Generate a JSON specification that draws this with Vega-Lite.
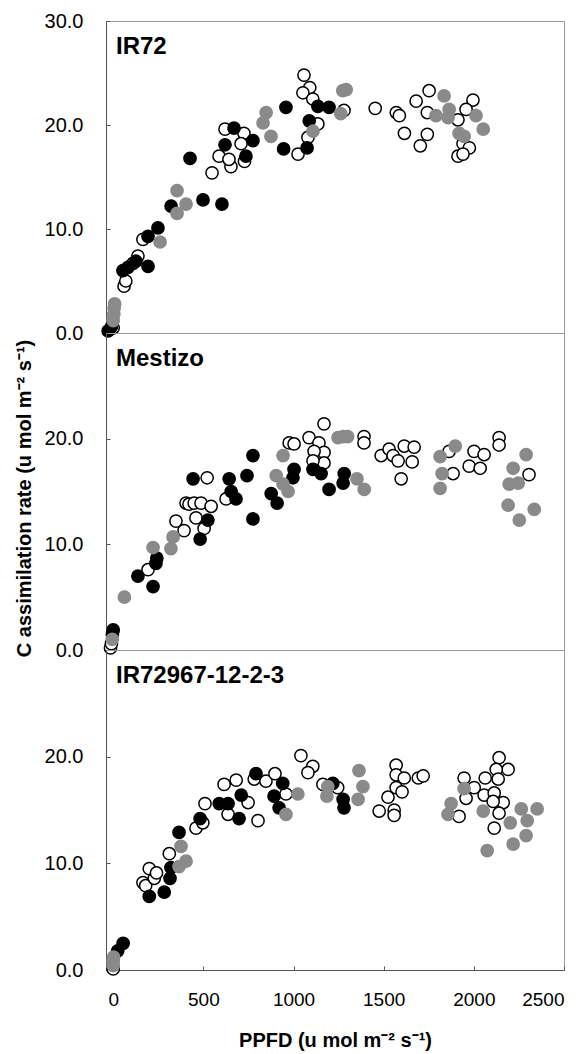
{
  "$schema": "https://vega.github.io/schema/vega-lite/v6.json",
  "padding": {"left": 13, "top": 10, "right": 4, "bottom": 3},
  "autosize": {"type": "pad"},
  "background": "white",
  "config": {
    "font": "Liberation Sans",
    "view": {"stroke": "#9a9a9a", "strokeWidth": 1},
    "axis": {"grid": false, "domainColor": "#555555", "tickColor": "#555555", "labelColor": "#000000", "titleColor": "#000000", "labelFont": "Liberation Sans", "titleFont": "Liberation Sans"}
  },
  "datasets": {
    "d": [
      {"p":"a","t":"o","x":0,"y":0.5},{"p":"a","t":"o","x":60,"y":4.5},{"p":"a","t":"o","x":70,"y":5.0},{"p":"a","t":"o","x":110,"y":6.7},{"p":"a","t":"o","x":137,"y":7.4},{"p":"a","t":"o","x":165,"y":9.0},{"p":"a","t":"o","x":548,"y":15.4},{"p":"a","t":"o","x":587,"y":17.0},{"p":"a","t":"o","x":653,"y":16.0},{"p":"a","t":"o","x":642,"y":16.7},{"p":"a","t":"o","x":620,"y":19.6},{"p":"a","t":"o","x":725,"y":19.2},{"p":"a","t":"o","x":709,"y":18.2},{"p":"a","t":"o","x":728,"y":16.5},{"p":"a","t":"o","x":1025,"y":17.2},{"p":"a","t":"o","x":1058,"y":24.8},{"p":"a","t":"o","x":1090,"y":23.6},{"p":"a","t":"o","x":1052,"y":23.1},{"p":"a","t":"o","x":1107,"y":22.5},{"p":"a","t":"o","x":1280,"y":21.4},{"p":"a","t":"o","x":1135,"y":20.1},{"p":"a","t":"o","x":1080,"y":18.8},{"p":"a","t":"o","x":1453,"y":21.6},{"p":"a","t":"o","x":1570,"y":21.2},{"p":"a","t":"o","x":1587,"y":20.9},{"p":"a","t":"o","x":1615,"y":19.2},{"p":"a","t":"o","x":1680,"y":22.3},{"p":"a","t":"o","x":1752,"y":23.3},{"p":"a","t":"o","x":1742,"y":19.1},{"p":"a","t":"o","x":1703,"y":18.0},{"p":"a","t":"o","x":1742,"y":21.2},{"p":"a","t":"o","x":1912,"y":20.5},{"p":"a","t":"o","x":1995,"y":22.4},{"p":"a","t":"o","x":1957,"y":21.5},{"p":"a","t":"o","x":1940,"y":18.2},{"p":"a","t":"o","x":1975,"y":17.8},{"p":"a","t":"o","x":1912,"y":17.0},{"p":"a","t":"o","x":1940,"y":17.2},
      {"p":"a","t":"k","x":-28,"y":0.2},{"p":"a","t":"k","x":-10,"y":0.6},{"p":"a","t":"k","x":54,"y":6.0},{"p":"a","t":"k","x":82,"y":6.3},{"p":"a","t":"k","x":126,"y":6.9},{"p":"a","t":"k","x":193,"y":6.4},{"p":"a","t":"k","x":193,"y":9.3},{"p":"a","t":"k","x":248,"y":10.1},{"p":"a","t":"k","x":321,"y":12.2},{"p":"a","t":"k","x":426,"y":16.8},{"p":"a","t":"k","x":498,"y":12.8},{"p":"a","t":"k","x":603,"y":12.4},{"p":"a","t":"k","x":620,"y":18.1},{"p":"a","t":"k","x":670,"y":19.7},{"p":"a","t":"k","x":736,"y":17.0},{"p":"a","t":"k","x":775,"y":18.5},{"p":"a","t":"k","x":958,"y":21.7},{"p":"a","t":"k","x":945,"y":17.7},{"p":"a","t":"k","x":1075,"y":17.8},{"p":"a","t":"k","x":1135,"y":21.8},{"p":"a","t":"k","x":1197,"y":21.7},{"p":"a","t":"k","x":1087,"y":20.4},
      {"p":"a","t":"g","x":0,"y":1.2},{"p":"a","t":"g","x":3,"y":1.8},{"p":"a","t":"g","x":5,"y":2.4},{"p":"a","t":"g","x":8,"y":2.8},{"p":"a","t":"g","x":260,"y":8.75},{"p":"a","t":"g","x":354,"y":13.7},{"p":"a","t":"g","x":404,"y":12.4},{"p":"a","t":"g","x":354,"y":11.5},{"p":"a","t":"g","x":848,"y":21.2},{"p":"a","t":"g","x":831,"y":20.2},{"p":"a","t":"g","x":875,"y":18.9},{"p":"a","t":"g","x":1273,"y":23.3},{"p":"a","t":"g","x":1292,"y":23.4},{"p":"a","t":"g","x":1262,"y":21.1},{"p":"a","t":"g","x":1108,"y":19.4},{"p":"a","t":"g","x":1835,"y":22.8},{"p":"a","t":"g","x":1790,"y":20.9},{"p":"a","t":"g","x":1863,"y":21.5},{"p":"a","t":"g","x":1857,"y":20.7},{"p":"a","t":"g","x":2012,"y":20.9},{"p":"a","t":"g","x":2052,"y":19.6},{"p":"a","t":"g","x":1918,"y":19.2},{"p":"a","t":"g","x":1946,"y":18.9},

      {"p":"b","t":"o","x":-15,"y":0.2},{"p":"b","t":"o","x":-10,"y":0.6},{"p":"b","t":"o","x":193,"y":7.6},{"p":"b","t":"o","x":348,"y":12.2},{"p":"b","t":"o","x":393,"y":11.3},{"p":"b","t":"o","x":504,"y":11.5},{"p":"b","t":"o","x":404,"y":13.9},{"p":"b","t":"o","x":420,"y":13.8},{"p":"b","t":"o","x":449,"y":13.9},{"p":"b","t":"o","x":487,"y":13.9},{"p":"b","t":"o","x":543,"y":13.6},{"p":"b","t":"o","x":459,"y":12.5},{"p":"b","t":"o","x":521,"y":16.3},{"p":"b","t":"o","x":626,"y":14.3},{"p":"b","t":"o","x":976,"y":19.6},{"p":"b","t":"o","x":1003,"y":19.5},{"p":"b","t":"o","x":1086,"y":20.1},{"p":"b","t":"o","x":1169,"y":21.4},{"p":"b","t":"o","x":1141,"y":19.6},{"p":"b","t":"o","x":1169,"y":18.7},{"p":"b","t":"o","x":1114,"y":18.8},{"p":"b","t":"o","x":1169,"y":17.7},{"p":"b","t":"o","x":1108,"y":17.9},{"p":"b","t":"o","x":1391,"y":20.2},{"p":"b","t":"o","x":1391,"y":19.6},{"p":"b","t":"o","x":1486,"y":18.4},{"p":"b","t":"o","x":1530,"y":19.0},{"p":"b","t":"o","x":1552,"y":18.4},{"p":"b","t":"o","x":1580,"y":17.9},{"p":"b","t":"o","x":1614,"y":19.3},{"p":"b","t":"o","x":1669,"y":19.2},{"p":"b","t":"o","x":1658,"y":17.8},{"p":"b","t":"o","x":1597,"y":16.2},{"p":"b","t":"o","x":1863,"y":18.8},{"p":"b","t":"o","x":1885,"y":16.7},{"p":"b","t":"o","x":2001,"y":18.8},{"p":"b","t":"o","x":2057,"y":18.5},{"p":"b","t":"o","x":1974,"y":17.4},{"p":"b","t":"o","x":2035,"y":17.2},{"p":"b","t":"o","x":2140,"y":20.1},{"p":"b","t":"o","x":2140,"y":19.4},{"p":"b","t":"o","x":2306,"y":16.6},
      {"p":"b","t":"k","x":-5,"y":1.5},{"p":"b","t":"k","x":0,"y":1.9},{"p":"b","t":"k","x":137,"y":7.0},{"p":"b","t":"k","x":221,"y":6.0},{"p":"b","t":"k","x":237,"y":8.2},{"p":"b","t":"k","x":242,"y":8.7},{"p":"b","t":"k","x":482,"y":10.5},{"p":"b","t":"k","x":525,"y":12.3},{"p":"b","t":"k","x":443,"y":16.2},{"p":"b","t":"k","x":643,"y":16.2},{"p":"b","t":"k","x":654,"y":15.0},{"p":"b","t":"k","x":681,"y":14.3},{"p":"b","t":"k","x":742,"y":16.5},{"p":"b","t":"k","x":775,"y":18.4},{"p":"b","t":"k","x":775,"y":12.4},{"p":"b","t":"k","x":876,"y":14.8},{"p":"b","t":"k","x":909,"y":13.9},{"p":"b","t":"k","x":1003,"y":17.1},{"p":"b","t":"k","x":997,"y":16.3},{"p":"b","t":"k","x":1108,"y":17.1},{"p":"b","t":"k","x":1153,"y":16.7},{"p":"b","t":"k","x":1197,"y":15.2},{"p":"b","t":"k","x":1281,"y":16.7},{"p":"b","t":"k","x":1275,"y":15.8},
      {"p":"b","t":"g","x":-5,"y":1.0},{"p":"b","t":"g","x":62,"y":5.0},{"p":"b","t":"g","x":221,"y":9.7},{"p":"b","t":"g","x":320,"y":9.6},{"p":"b","t":"g","x":332,"y":10.7},{"p":"b","t":"g","x":942,"y":18.4},{"p":"b","t":"g","x":904,"y":16.5},{"p":"b","t":"g","x":942,"y":15.7},{"p":"b","t":"g","x":970,"y":15.0},{"p":"b","t":"g","x":1275,"y":20.2},{"p":"b","t":"g","x":1300,"y":20.2},{"p":"b","t":"g","x":1247,"y":20.1},{"p":"b","t":"g","x":1352,"y":16.2},{"p":"b","t":"g","x":1392,"y":15.2},{"p":"b","t":"g","x":1813,"y":18.3},{"p":"b","t":"g","x":1897,"y":19.3},{"p":"b","t":"g","x":1824,"y":16.7},{"p":"b","t":"g","x":1813,"y":15.3},{"p":"b","t":"g","x":2290,"y":18.5},{"p":"b","t":"g","x":2218,"y":17.2},{"p":"b","t":"g","x":2196,"y":15.7},{"p":"b","t":"g","x":2246,"y":15.8},{"p":"b","t":"g","x":2190,"y":13.7},{"p":"b","t":"g","x":2252,"y":12.3},{"p":"b","t":"g","x":2335,"y":13.3},

      {"p":"c","t":"o","x":0,"y":0.1},{"p":"c","t":"o","x":165,"y":8.2},{"p":"c","t":"o","x":180,"y":7.9},{"p":"c","t":"o","x":200,"y":9.5},{"p":"c","t":"o","x":228,"y":8.6},{"p":"c","t":"o","x":240,"y":9.1},{"p":"c","t":"o","x":311,"y":10.9},{"p":"c","t":"o","x":459,"y":13.3},{"p":"c","t":"o","x":497,"y":13.8},{"p":"c","t":"o","x":509,"y":15.6},{"p":"c","t":"o","x":637,"y":14.6},{"p":"c","t":"o","x":615,"y":17.4},{"p":"c","t":"o","x":682,"y":17.8},{"p":"c","t":"o","x":748,"y":15.7},{"p":"c","t":"o","x":803,"y":14.0},{"p":"c","t":"o","x":782,"y":17.9},{"p":"c","t":"o","x":847,"y":17.7},{"p":"c","t":"o","x":897,"y":18.4},{"p":"c","t":"o","x":958,"y":16.5},{"p":"c","t":"o","x":1041,"y":20.1},{"p":"c","t":"o","x":1107,"y":19.1},{"p":"c","t":"o","x":1080,"y":18.5},{"p":"c","t":"o","x":1163,"y":17.4},{"p":"c","t":"o","x":1245,"y":17.1},{"p":"c","t":"o","x":1569,"y":19.2},{"p":"c","t":"o","x":1569,"y":18.3},{"p":"c","t":"o","x":1614,"y":18.0},{"p":"c","t":"o","x":1692,"y":18.0},{"p":"c","t":"o","x":1719,"y":18.2},{"p":"c","t":"o","x":1569,"y":17.1},{"p":"c","t":"o","x":1602,"y":16.7},{"p":"c","t":"o","x":1524,"y":16.2},{"p":"c","t":"o","x":1475,"y":14.9},{"p":"c","t":"o","x":1558,"y":15.0},{"p":"c","t":"o","x":1558,"y":14.5},{"p":"c","t":"o","x":1946,"y":18.0},{"p":"c","t":"o","x":2002,"y":17.1},{"p":"c","t":"o","x":1957,"y":16.1},{"p":"c","t":"o","x":1918,"y":14.4},{"p":"c","t":"o","x":2140,"y":19.9},{"p":"c","t":"o","x":2190,"y":18.8},{"p":"c","t":"o","x":2124,"y":18.8},{"p":"c","t":"o","x":2063,"y":18.0},{"p":"c","t":"o","x":2135,"y":17.9},{"p":"c","t":"o","x":2057,"y":16.4},{"p":"c","t":"o","x":2113,"y":16.6},{"p":"c","t":"o","x":2163,"y":15.7},{"p":"c","t":"o","x":2107,"y":15.8},{"p":"c","t":"o","x":2140,"y":14.7},{"p":"c","t":"o","x":2113,"y":13.3},
      {"p":"c","t":"k","x":25,"y":1.8},{"p":"c","t":"k","x":55,"y":2.5},{"p":"c","t":"k","x":200,"y":6.9},{"p":"c","t":"k","x":283,"y":7.3},{"p":"c","t":"k","x":315,"y":8.6},{"p":"c","t":"k","x":320,"y":9.6},{"p":"c","t":"k","x":365,"y":12.9},{"p":"c","t":"k","x":482,"y":14.2},{"p":"c","t":"k","x":588,"y":15.6},{"p":"c","t":"k","x":637,"y":15.6},{"p":"c","t":"k","x":698,"y":14.2},{"p":"c","t":"k","x":710,"y":16.4},{"p":"c","t":"k","x":792,"y":18.4},{"p":"c","t":"k","x":940,"y":17.5},{"p":"c","t":"k","x":892,"y":16.3},{"p":"c","t":"k","x":920,"y":15.2},{"p":"c","t":"k","x":1218,"y":17.5},{"p":"c","t":"k","x":1275,"y":16.0},{"p":"c","t":"k","x":1280,"y":15.2},
      {"p":"c","t":"g","x":0,"y":0.4},{"p":"c","t":"g","x":0,"y":0.8},{"p":"c","t":"g","x":2,"y":1.2},{"p":"c","t":"g","x":376,"y":11.6},{"p":"c","t":"g","x":404,"y":10.2},{"p":"c","t":"g","x":365,"y":9.7},{"p":"c","t":"g","x":958,"y":14.6},{"p":"c","t":"g","x":1024,"y":16.5},{"p":"c","t":"g","x":1190,"y":17.2},{"p":"c","t":"g","x":1185,"y":16.3},{"p":"c","t":"g","x":1363,"y":18.7},{"p":"c","t":"g","x":1385,"y":17.2},{"p":"c","t":"g","x":1358,"y":16.0},{"p":"c","t":"g","x":1946,"y":17.0},{"p":"c","t":"g","x":1874,"y":15.6},{"p":"c","t":"g","x":1857,"y":14.6},{"p":"c","t":"g","x":2052,"y":14.9},{"p":"c","t":"g","x":2202,"y":13.8},{"p":"c","t":"g","x":2263,"y":15.1},{"p":"c","t":"g","x":2296,"y":14.0},{"p":"c","t":"g","x":2351,"y":15.1},{"p":"c","t":"g","x":2290,"y":12.6},{"p":"c","t":"g","x":2218,"y":11.8},{"p":"c","t":"g","x":2074,"y":11.2}
    ],
    "names": [
      {"p": "a", "label": "IR72"},
      {"p": "b", "label": "Mestizo"},
      {"p": "c", "label": "IR72967-12-2-3"}
    ]
  },
  "spacing": 0,
  "bounds": "flush",
  "vconcat": [
    {
      "width": 458, "height": 312,
      "layer": [
        {
          "data": {"name": "d"},
          "transform": [{"filter": "datum.p == 'a'"}],
          "mark": {"type": "circle", "size": 150, "strokeWidth": 1.5, "opacity": 1},
          "encoding": {
            "x": {"field": "x", "type": "quantitative", "scale": {"domain": [-40, 2500], "nice": false, "zero": false}, "axis": null},
            "y": {"field": "y", "type": "quantitative", "scale": {"domain": [0, 30], "nice": false}, "axis": {"values": [0, 10, 20, 30], "format": ".1f", "title": null, "labelFontSize": 20, "tickSize": -4, "labelPadding": 27}},
            "fill": {"field": "t", "type": "nominal", "scale": {"domain": ["o", "k", "g"], "range": ["#ffffff", "#000000", "#8a8a8a"]}, "legend": null},
            "stroke": {"field": "t", "type": "nominal", "scale": {"domain": ["o", "k", "g"], "range": ["#000000", "#000000", "#8a8a8a"]}, "legend": null}
          }
        },
        {
          "data": {"name": "names"},
          "transform": [{"filter": "datum.p == 'a'"}],
          "mark": {"type": "text", "align": "left", "baseline": "alphabetic", "dx": 10, "dy": 33, "fontSize": 24, "fontWeight": "bold", "color": "#000000"},
          "encoding": {
            "text": {"field": "label"},
            "x": {"datum": -40},
            "y": {"datum": 30}
          }
        }
      ]
    },
    {
      "width": 458, "height": 317,
      "layer": [
        {
          "data": {"name": "d"},
          "transform": [{"filter": "datum.p == 'b'"}],
          "mark": {"type": "circle", "size": 150, "strokeWidth": 1.5, "opacity": 1},
          "encoding": {
            "x": {"field": "x", "type": "quantitative", "scale": {"domain": [-40, 2500], "nice": false, "zero": false}, "axis": null},
            "y": {"field": "y", "type": "quantitative", "scale": {"domain": [0, 30], "nice": false}, "axis": {"values": [0, 10, 20], "format": ".1f", "title": "C assimilation rate (u mol m⁻² s⁻¹)", "titleFontSize": 20, "titleFontWeight": "bold", "titlePadding": 10, "titleY": 165, "labelFontSize": 20, "tickSize": -4, "labelPadding": 27}},
            "fill": {"field": "t", "type": "nominal", "scale": {"domain": ["o", "k", "g"], "range": ["#ffffff", "#000000", "#8a8a8a"]}, "legend": null},
            "stroke": {"field": "t", "type": "nominal", "scale": {"domain": ["o", "k", "g"], "range": ["#000000", "#000000", "#8a8a8a"]}, "legend": null}
          }
        },
        {
          "data": {"name": "names"},
          "transform": [{"filter": "datum.p == 'b'"}],
          "mark": {"type": "text", "align": "left", "baseline": "alphabetic", "dx": 10, "dy": 33, "fontSize": 24, "fontWeight": "bold", "color": "#000000"},
          "encoding": {
            "text": {"field": "label"},
            "x": {"datum": -40},
            "y": {"datum": 30}
          }
        }
      ]
    },
    {
      "width": 458, "height": 320,
      "layer": [
        {
          "data": {"name": "d"},
          "transform": [{"filter": "datum.p == 'c'"}],
          "mark": {"type": "circle", "size": 150, "strokeWidth": 1.5, "opacity": 1},
          "encoding": {
            "x": {"field": "x", "type": "quantitative", "scale": {"domain": [-40, 2500], "nice": false, "zero": false}, "axis": {"values": [0, 500, 1000, 1500, 2000, 2500], "format": "d", "title": "PPFD (u mol m⁻² s⁻¹)", "titleFontSize": 20, "titleFontWeight": "bold", "titlePadding": 21, "labelFontSize": 19, "tickSize": -4, "labelPadding": 24}},
            "y": {"field": "y", "type": "quantitative", "scale": {"domain": [0, 30], "nice": false}, "axis": {"values": [0, 10, 20], "format": ".1f", "title": null, "labelFontSize": 20, "tickSize": -4, "labelPadding": 27}},
            "fill": {"field": "t", "type": "nominal", "scale": {"domain": ["o", "k", "g"], "range": ["#ffffff", "#000000", "#8a8a8a"]}, "legend": null},
            "stroke": {"field": "t", "type": "nominal", "scale": {"domain": ["o", "k", "g"], "range": ["#000000", "#000000", "#8a8a8a"]}, "legend": null}
          }
        },
        {
          "data": {"name": "names"},
          "transform": [{"filter": "datum.p == 'c'"}],
          "mark": {"type": "text", "align": "left", "baseline": "alphabetic", "dx": 10, "dy": 33, "fontSize": 24, "fontWeight": "bold", "color": "#000000"},
          "encoding": {
            "text": {"field": "label"},
            "x": {"datum": -40},
            "y": {"datum": 30}
          }
        }
      ]
    }
  ]
}
